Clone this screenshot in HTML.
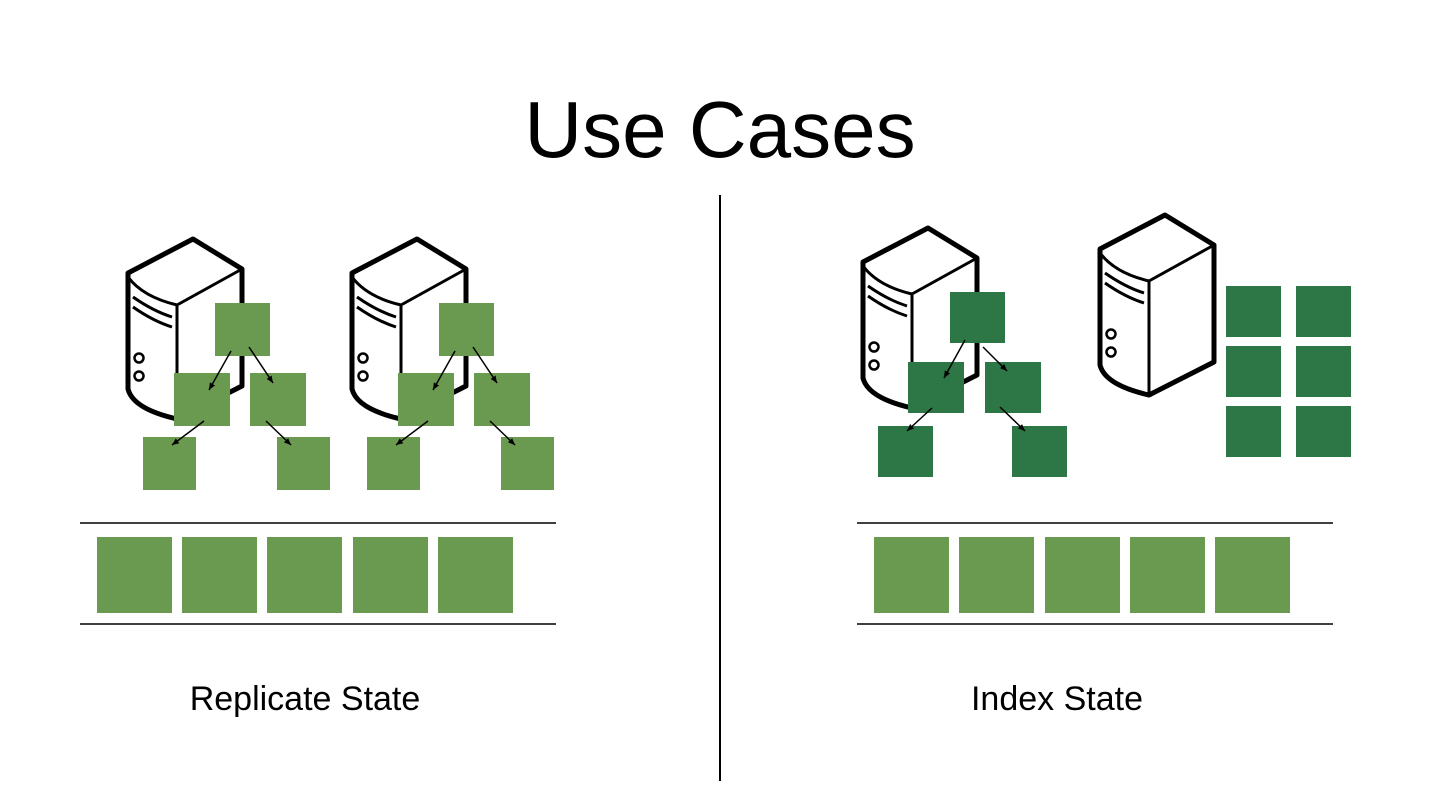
<!DOCTYPE html>
<html><head><meta charset="utf-8"><style>
html,body{margin:0;padding:0;background:#fff;}
svg{display:block}
</style></head><body>
<svg width="1440" height="810" viewBox="0 0 1440 810" xmlns="http://www.w3.org/2000/svg">
<defs>
<g id="srv" fill="#fff" stroke="#000" stroke-linejoin="round">
 <path d="M0,0 L-65,34 L-65,150 Q-60,170 -16,180 L49,147 L49,30 Z" stroke-width="5"/>
 <path d="M-65,38 Q-50,58 -16,66 L49,30" fill="none" stroke-width="3"/>
 <path d="M-16,66 L-16,180" stroke-width="3"/>
 <path d="M-60,58 Q-40,72 -21,78" fill="none" stroke-width="3"/>
 <path d="M-60,68 Q-40,82 -21,88" fill="none" stroke-width="3"/>
 <circle cx="-54" cy="119" r="4.5" stroke-width="2.5"/>
 <circle cx="-54" cy="137" r="4.5" stroke-width="2.5"/>
</g>
<marker id="ar" markerWidth="8" markerHeight="8" refX="7" refY="4" orient="auto" markerUnits="userSpaceOnUse">
 <path d="M0,1 L7,4 L0,7 Z" fill="#000"/>
</marker>
<g id="tree">
 <rect x="0" y="0" width="55" height="53"/>
 <rect x="-41" y="70" width="56" height="53"/>
 <rect x="35" y="70" width="56" height="53"/>
 <rect x="-72" y="134" width="53" height="53"/>
 <rect x="62" y="134" width="53" height="53"/>
 <g stroke="#000" stroke-width="1.5" marker-end="url(#ar)">
  <line x1="16" y1="48" x2="-6" y2="87"/>
  <line x1="34" y1="44" x2="58" y2="80"/>
  <line x1="-11" y1="118" x2="-43" y2="142"/>
  <line x1="51" y1="118" x2="76" y2="142"/>
 </g>
</g>
</defs>
<text x="720" y="157" text-anchor="middle" font-family="Liberation Sans, sans-serif" font-size="80">Use Cases</text>
<line x1="720" y1="195" x2="720" y2="781" stroke="#000" stroke-width="2"/>

<use href="#srv" x="193" y="239"/>
<use href="#srv" x="417" y="239"/>
<use href="#srv" x="928" y="228"/>
<use href="#srv" x="1165" y="215"/>

<g fill="#6a9a50">
 <use href="#tree" x="215" y="303"/>
 <use href="#tree" x="439" y="303"/>
</g>
<g fill="#2d7746">
 <rect x="950" y="292" width="55" height="51"/>
 <rect x="908" y="362" width="56" height="51"/>
 <rect x="985" y="362" width="56" height="51"/>
 <rect x="878" y="426" width="55" height="51"/>
 <rect x="1012" y="426" width="55" height="51"/>
 <g stroke="#000" stroke-width="1.5" marker-end="url(#ar)">
  <line x1="965" y1="340" x2="944" y2="378"/>
  <line x1="983" y1="347" x2="1007" y2="371"/>
  <line x1="932" y1="408" x2="907" y2="431"/>
  <line x1="1000" y1="407" x2="1025" y2="431"/>
 </g>
 <rect x="1226" y="286" width="55" height="51"/>
 <rect x="1296" y="286" width="55" height="51"/>
 <rect x="1226" y="346" width="55" height="51"/>
 <rect x="1296" y="346" width="55" height="51"/>
 <rect x="1226" y="406" width="55" height="51"/>
 <rect x="1296" y="406" width="55" height="51"/>
</g>

<g stroke="#000" stroke-width="1.5">
 <line x1="80" y1="523" x2="556" y2="523"/>
 <line x1="80" y1="624" x2="556" y2="624"/>
 <line x1="857" y1="523" x2="1333" y2="523"/>
 <line x1="857" y1="624" x2="1333" y2="624"/>
</g>
<g fill="#6a9a50">
 <rect x="97" y="537" width="75" height="76"/>
 <rect x="182" y="537" width="75" height="76"/>
 <rect x="267" y="537" width="75" height="76"/>
 <rect x="353" y="537" width="75" height="76"/>
 <rect x="438" y="537" width="75" height="76"/>
 <rect x="874" y="537" width="75" height="76"/>
 <rect x="959" y="537" width="75" height="76"/>
 <rect x="1045" y="537" width="75" height="76"/>
 <rect x="1130" y="537" width="75" height="76"/>
 <rect x="1215" y="537" width="75" height="76"/>
</g>
<text x="305" y="710" text-anchor="middle" font-family="Liberation Sans, sans-serif" font-size="34">Replicate State</text>
<text x="1057" y="710" text-anchor="middle" font-family="Liberation Sans, sans-serif" font-size="34">Index State</text>
</svg>
</body></html>
